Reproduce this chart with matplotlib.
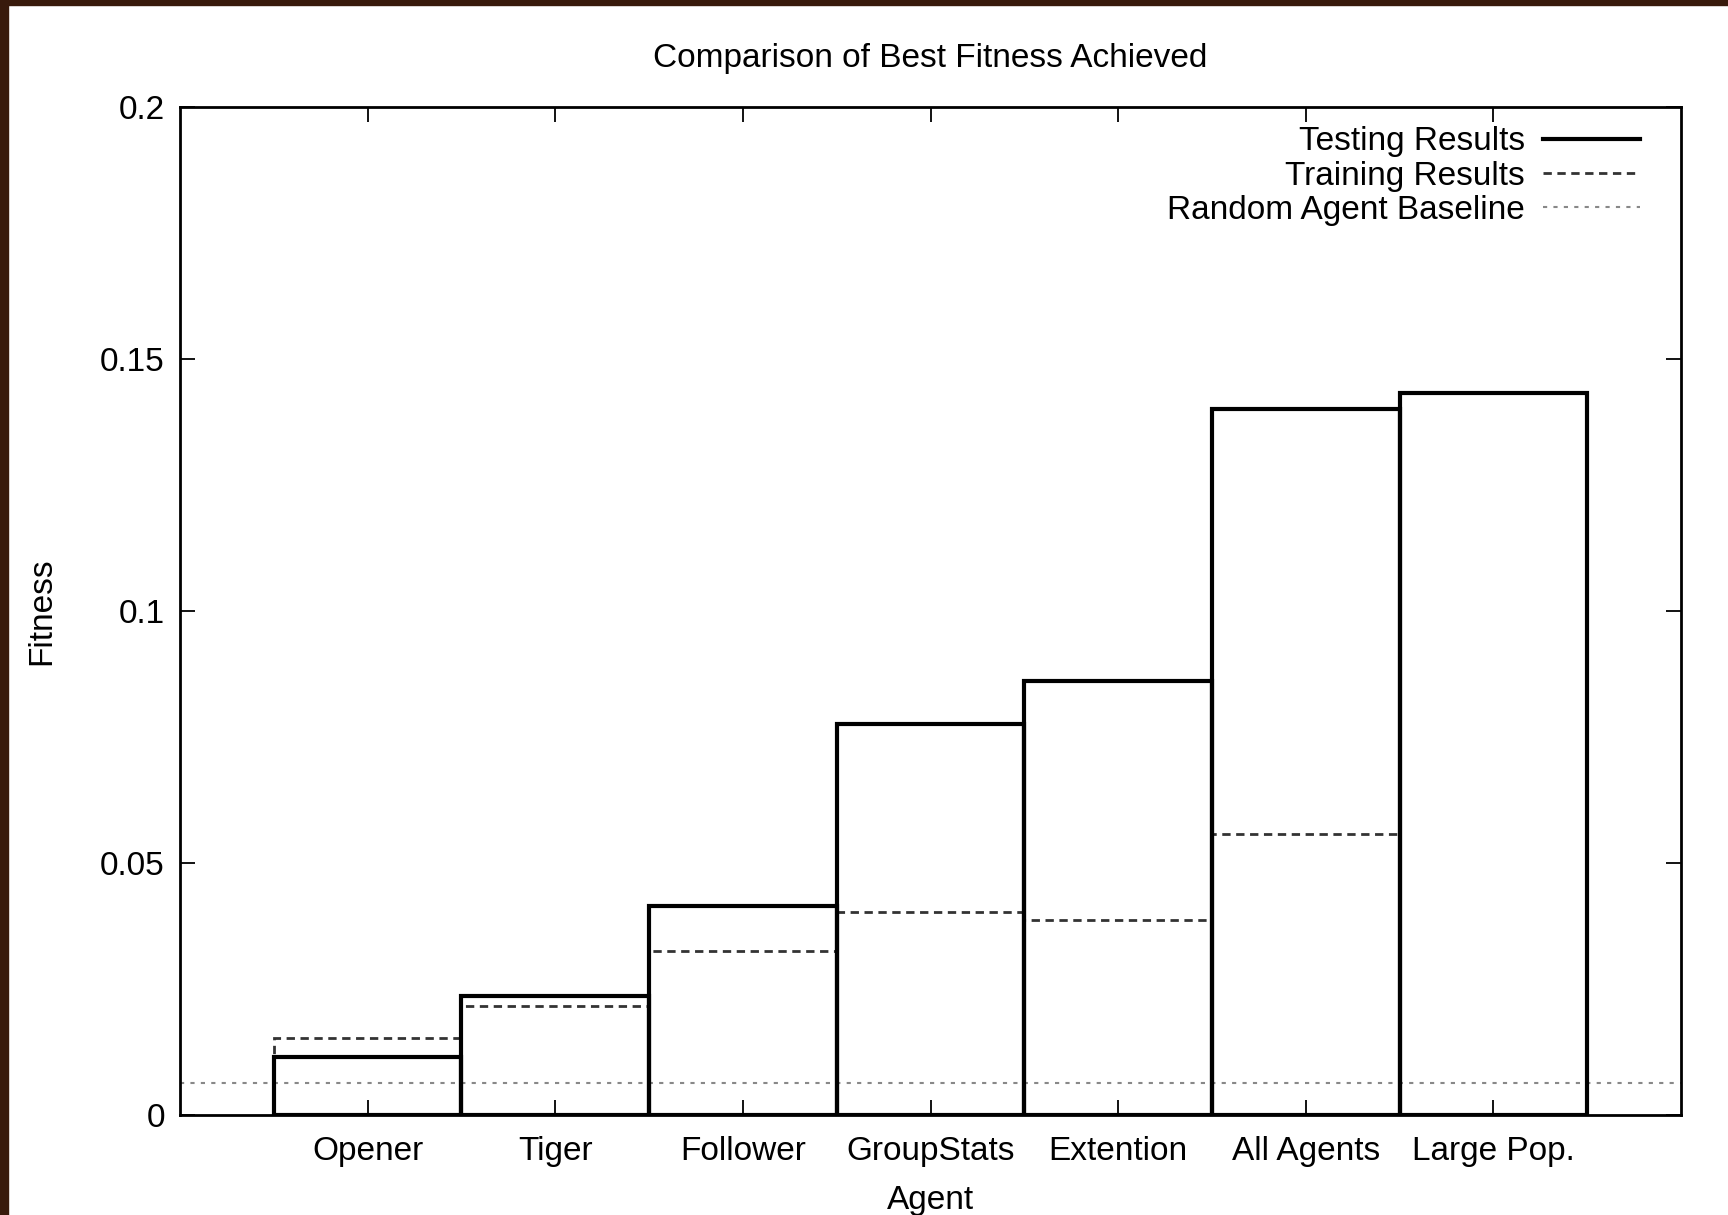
import numpy as np
import matplotlib
matplotlib.use("Agg")
import matplotlib.pyplot as plt
from matplotlib.lines import Line2D
from matplotlib.patches import Rectangle

# ======================
# Data
# ======================
agents = ["Opener", "Tiger", "Follower", "GroupStats", "Extention", "All Agents", "Large Pop."]
testing = [0.0115, 0.0236, 0.0415, 0.0776, 0.0861, 0.1401, 0.1432]
training = [0.0153, 0.0216, 0.0326, 0.0402, 0.0387, 0.0557]   # no training value for Large Pop.
baseline = 0.0063
y_ticks = [0, 0.05, 0.1, 0.15, 0.2]
y_tick_labels = ["0", "0.05", "0.1", "0.15", "0.2"]

plt.rcParams['font.family'] = ['Liberation Sans', 'DejaVu Sans']
FS = 24

fig = plt.figure(figsize=(17.28, 12.15), dpi=100)
ax = fig.add_axes([0.1042, 0.0823, 0.8686, 0.8296])

x = np.arange(1, len(agents) + 1)

# training boxes (dashed), underneath
ax.bar(x[:len(training)], training, width=1.0, fill=False,
       edgecolor='#333333', linewidth=2.0, linestyle=(0, (3, 2)), zorder=2)
# testing boxes (solid)
ax.bar(x, testing, width=1.0, fill=False,
       edgecolor='black', linewidth=3.0, zorder=3)
# random agent baseline
ax.axhline(baseline, color='#888888', linewidth=1.5, linestyle=(0, (2, 3)), zorder=1)

ax.set_xlim(0, 8)
ax.set_ylim(0, 0.2)
ax.set_xticks(x)
ax.set_xticklabels(agents, fontsize=FS)
ax.set_yticks(y_ticks)
ax.set_yticklabels(y_tick_labels, fontsize=FS)
ax.tick_params(direction='in', length=11, width=1.3, top=True, right=True,
               pad=11, colors='black')
ax.tick_params(axis='x', pad=15)
for sp in ax.spines.values():
    sp.set_linewidth(2.0)

ax.set_title("Comparison of Best Fitness Achieved", fontsize=FS, pad=29)
ax.set_xlabel("Agent", fontsize=FS)
ax.set_ylabel("Fitness", fontsize=FS)
ax.xaxis.label.set_va('center')
ax.xaxis.set_label_coords(0.5, -0.085)
ax.yaxis.label.set_va('center')
ax.yaxis.set_label_coords(-0.092, 0.5)

handles = [
    Line2D([], [], color='black', linewidth=3.0),
    Line2D([], [], color='#333333', linewidth=2.0, linestyle=(0, (3, 2))),
    Line2D([], [], color='#888888', linewidth=1.5, linestyle=(0, (2, 3))),
]
labels = ["Testing Results", "Training Results", "Random Agent Baseline"]
ax.legend(handles, labels, loc='upper right', bbox_to_anchor=(0.9727, 0.981),
          fontsize=FS, frameon=False, markerfirst=False, borderpad=0,
          borderaxespad=0, labelspacing=0.1, handlelength=2.9, handletextpad=0.55)

# dark brown frame along top and left edge of the scan
fig.patches.append(Rectangle((0, 1 - 5 / 1215), 1, 5 / 1215, transform=fig.transFigure,
                             color='#381a0c', zorder=10))
fig.patches.append(Rectangle((0, 0), 8 / 1728, 1, transform=fig.transFigure,
                             color='#381a0c', zorder=10))

fig.savefig("out.png", dpi=100)
